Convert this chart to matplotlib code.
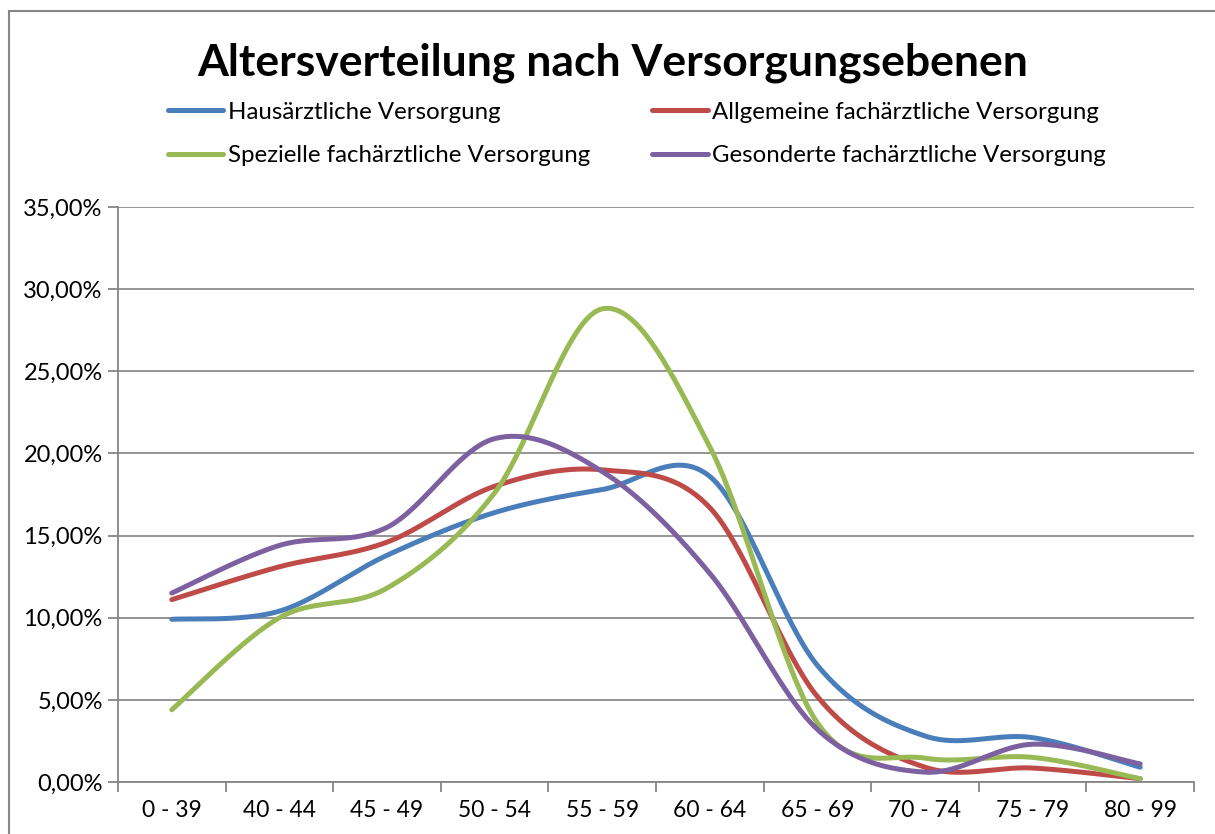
import numpy as np
import matplotlib
matplotlib.use("Agg")
import matplotlib.pyplot as plt
from matplotlib.patches import Rectangle
from matplotlib.ticker import FuncFormatter, FixedLocator

plt.rcParams['font.family'] = ['Lato', 'DejaVu Sans']

categories = ["0 - 39", "40 - 44", "45 - 49", "50 - 54", "55 - 59",
              "60 - 64", "65 - 69", "70 - 74", "75 - 79", "80 - 99"]

haus = [9.9, 10.4, 13.8, 16.4, 17.8, 18.6, 7.1, 2.8, 2.7, 0.9]
allgemein = [11.1, 13.1, 14.6, 18.0, 19.0, 16.7, 5.2, 0.9, 0.85, 0.2]
speziell = [4.4, 10.0, 11.8, 17.6, 28.8, 20.4, 3.6, 1.45, 1.5, 0.2]
gesondert = [11.5, 14.4, 15.5, 20.9, 18.9, 12.7, 3.2, 0.6, 2.3, 1.1]

series_names = ["Hausärztliche Versorgung", "Allgemeine fachärztliche Versorgung",
                "Spezielle fachärztliche Versorgung", "Gesonderte fachärztliche Versorgung"]
colors = ["#4A7EBB", "#BE4B48", "#98B954", "#7D60A0"]


# Excel style smoothed line (cubic bezier through points)
def smooth(xs, ys, n=40):
  p = np.column_stack([xs, ys]).astype(float)
  m = len(p)
  out = []
  for i in range(m - 1):
    p0 = p[max(i - 1, 0)]
    p1 = p[i]
    p2 = p[i + 1]
    p3 = p[min(i + 2, m - 1)]
    c1 = p1 + (p2 - p0) / 6.0
    c2 = p2 - (p3 - p1) / 6.0
    t = np.linspace(0, 1, n)[:, None]
    seg = ((1 - t)**3) * p1 + 3 * ((1 - t)**2) * t * c1 + 3 * (1 - t) * t**2 * c2 + t**3 * p2
    out.append(seg if i == 0 else seg[1:])
  out = np.vstack(out)
  return out[:, 0], out[:, 1]


fig = plt.figure(figsize=(12.15, 8.34), dpi=100)
ax = fig.add_axes([118/1215, 1 - 782/834, (1194 - 118)/1215, (782 - 207)/834])

x = np.arange(len(categories))
handles = []
for vals, name, c in zip([haus, allgemein, speziell, gesondert], series_names, colors):
  sx, sy = smooth(x, vals)
  h, = ax.plot(sx, sy, color=c, lw=3.6, solid_capstyle='round', label=name)
  handles.append(h)

ax.set_xlim(-0.5, len(categories) - 0.5)
ax.set_ylim(0, 35)
ax.set_yticks(np.arange(0, 36, 5))
ax.yaxis.set_major_formatter(FuncFormatter(lambda v, p: f"{v:.2f}%".replace(".", ",")))
ax.set_xticks(x)
ax.set_xticklabels(categories)
ax.xaxis.set_minor_locator(FixedLocator(np.arange(-0.5, len(categories), 1.0)))
ax.tick_params(axis='x', which='major', length=0, pad=13, labelsize=16.5)
ax.tick_params(axis='x', which='minor', length=7, color='#868686', width=1.3)
ax.tick_params(axis='y', length=7, color='#868686', width=1.3, labelsize=17, pad=4)

ax.grid(axis='y', color='#8c8c8c', lw=1.3)
ax.set_axisbelow(True)
for s in ['top', 'right']:
  ax.spines[s].set_visible(False)
for s in ['left', 'bottom']:
  ax.spines[s].set_color('#868686')
  ax.spines[s].set_linewidth(1.3)

fig.text(0.504, 1 - 63/834, "Altersverteilung nach Versorgungsebenen",
         ha='center', va='center', fontsize=32, fontweight='bold')

# legend in two columns, row order like the original
order = [0, 2, 1, 3]
fig.legend([handles[i] for i in order], [series_names[i] for i in order],
           ncol=2, loc='upper left', bbox_to_anchor=(158/1215, 1 - 92/834),
           frameon=False, fontsize=17.3, handlelength=2.3, handletextpad=0.2,
           columnspacing=2.6, labelspacing=0.95, borderaxespad=0)

fig.patches.append(Rectangle((9/1215, -0.1), 1.2, 1 - 11/834 + 0.1,
                             transform=fig.transFigure, fill=False,
                             edgecolor='#868686', lw=1.5))

fig.savefig("out.png", dpi=100)
